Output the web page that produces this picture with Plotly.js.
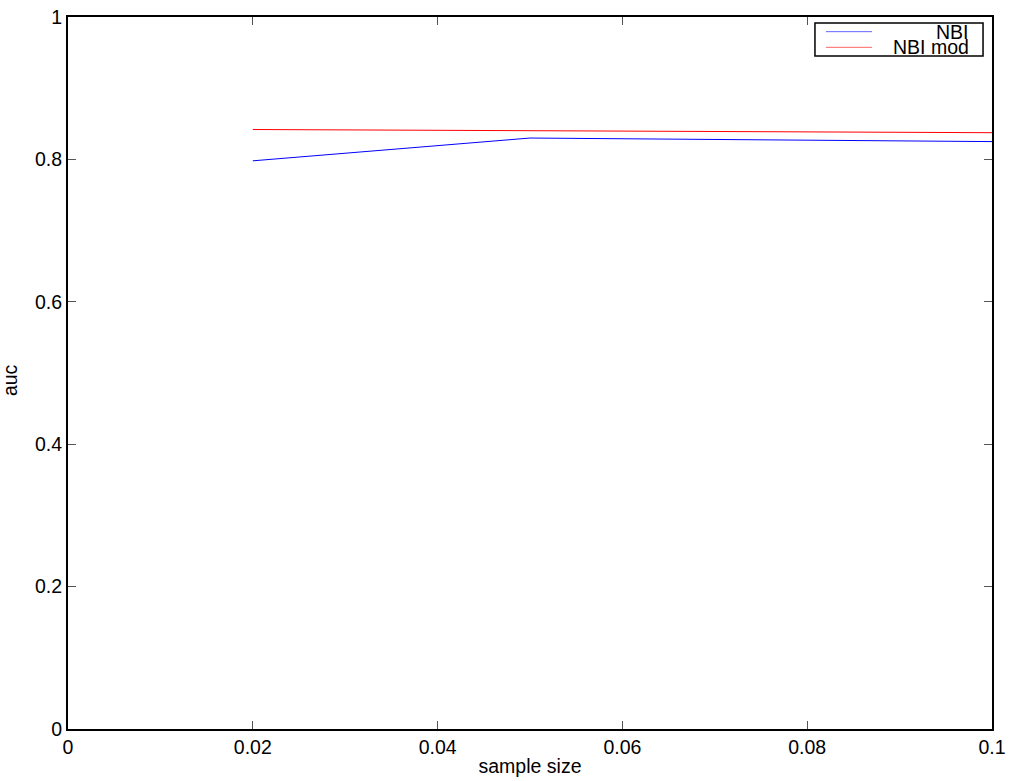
<!DOCTYPE html>
<html><head><meta charset="utf-8">
<script src="https://cdn.plot.ly/plotly-3.0.1.min.js"></script>
<style>body{margin:0;padding:0;background:#fff}</style>
</head><body>
<div id="chart" style="width:1017px;height:781px"></div>
<script>
var sampleSize = [0.02, 0.05, 0.1];
var aucNBI = [0.798, 0.830, 0.825];
var aucNBImod = [0.842, 0.840, 0.8375];
var seriesNames = ["NBI", "NBI mod"];
var seriesColors = ["#0000ff", "#ff0000"];
var xTickVals = [0, 0.02, 0.04, 0.06, 0.08, 0.1];
var xTickText = ["0", "0.02", "0.04", "0.06", "0.08", "0.1"];
var yTickVals = [0, 0.2, 0.4, 0.6, 0.8, 1];
var yTickText = ["0", "0.2", "0.4", "0.6", "0.8", "1"];
var xTitle = "sample size";
var yTitle = "auc";

var FAM = "Liberation Sans, Arial, sans-serif";
var font = {family: FAM, size: 19.5, color: "#000"};
var traces = [
  {x: sampleSize, y: aucNBI, name: seriesNames[0], mode: "lines", line: {color: seriesColors[0], width: 1}},
  {x: sampleSize, y: aucNBImod, name: seriesNames[1], mode: "lines", line: {color: seriesColors[1], width: 1}}
];
var axisCommon = {
  showline: true, linecolor: "#000", linewidth: 2, mirror: "ticks",
  ticks: "inside", ticklen: 8, tickcolor: "#555", tickwidth: 1,
  showgrid: false, zeroline: false, tickmode: "array", tickfont: font
};

// custom legend (matplotlib-style, right-aligned labels)
var legRows = [0.9794, 0.9574];
var shapes = [{type: "rect", xref: "paper", yref: "paper", x0: 0.8084, x1: 0.9903, y0: 0.9452, y1: 0.9916,
               line: {color: "#000", width: 1.5}, fillcolor: "#fff", layer: "above"}];
var annotations = [];
for (var i = 0; i < seriesNames.length; i++) {
  shapes.push({type: "line", xref: "paper", yref: "paper", x0: 0.8203, x1: 0.8701, y0: legRows[i], y1: legRows[i],
               line: {color: seriesColors[i], width: 1}, opacity: 0.6, layer: "above"});
  annotations.push({xref: "paper", yref: "paper", x: 0.9765, y: legRows[i], xanchor: "right", yanchor: "middle",
                    text: seriesNames[i], showarrow: false, font: {family: FAM, size: 19.5, color: "#000"},
                    borderpad: 0});
}
annotations.push({xref: "paper", yref: "paper", x: -0.0628, y: 0.49, xanchor: "center", yanchor: "middle",
                  text: yTitle, textangle: -90, showarrow: false, font: font, borderpad: 0});

var layout = {
  width: 1017, height: 781,
  margin: {l: 68, r: 25, t: 17, b: 52},
  paper_bgcolor: "#fff", plot_bgcolor: "#fff",
  font: font,
  showlegend: false,
  shapes: shapes,
  annotations: annotations,
  xaxis: Object.assign({}, axisCommon, {range: [0, 0.1], tickvals: xTickVals, ticktext: xTickText,
          title: {text: xTitle, font: font, standoff: 2}}),
  yaxis: Object.assign({}, axisCommon, {range: [0, 1], tickvals: yTickVals, ticktext: yTickText})
};
Plotly.newPlot("chart", traces, layout, {displayModeBar: false});
</script>
</body></html>
